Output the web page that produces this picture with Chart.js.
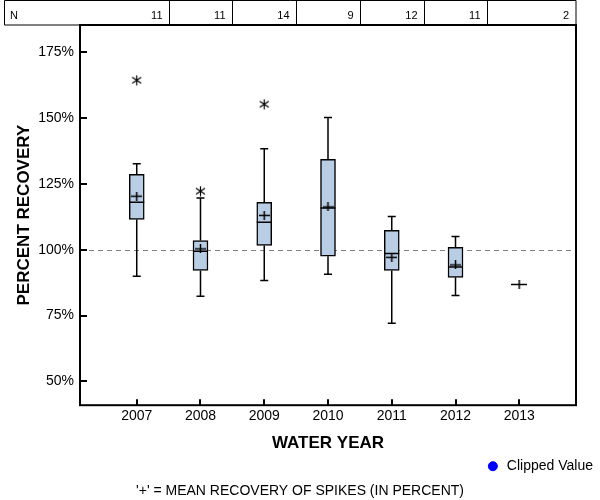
<!DOCTYPE html>
<html>
<head>
<meta charset="utf-8">
<script src="https://cdn.jsdelivr.net/npm/chart.js@4.4.0/dist/chart.umd.min.js"></script>
<style>
    html, body { margin: 0; padding: 0; background: #fff; }
</style>
</head>
<body>
<canvas id="recoveryChart" width="600" height="500"></canvas>
<script>
const years = [2007, 2008, 2009, 2010, 2011, 2012, 2013];
const nCounts = [11, 11, 14, 9, 12, 11, 2];
const whiskerLow = [89.9, 82.3, 88.3, 90.7, 72.1, 82.6, null];
const q1 = [111.5, 92.1, 101.6, 97.5, 92.1, 89.5, null];
const medians = [118.0, 99.4, 110.4, 115.8, 98.6, 93.4, null];
const q3 = [128.6, 103.5, 118.0, 134.3, 107.3, 100.9, null];
const whiskerHigh = [132.6, 119.6, 138.3, 150.2, 112.6, 105.0, null];
const means = [120.3, 100.3, 113.0, 116.2, 97.1, 94.2, 86.8];
const outlierYears = [2007, 2008, 2009];
const outlierValues = [164.3, 122.2, 155.2];
const clippedValues = [];
const yTickValues = [50, 75, 100, 125, 150, 175];
const referenceValue = 100;

const BOX_WIDTH = 15;
const CAP_HALF = 4;
const FONT = "'Liberation Sans', Arial, sans-serif";

Chart.defaults.font.family = FONT;
Chart.defaults.color = '#000';

// small canvases used as point styles
function makeMark(w, h, lineWidth, draw) {
    const c = document.createElement('canvas');
    c.width = w;
    c.height = h;
    const g = c.getContext('2d');
    g.strokeStyle = '#000';
    g.lineWidth = lineWidth;
    g.beginPath();
    draw(g, w, h);
    g.stroke();
    return c;
}

const meanCross = makeMark(11, 9, 1.5, (g, w, h) => {
    g.moveTo(0, h / 2); g.lineTo(w, h / 2);
    g.moveTo(w / 2, 0); g.lineTo(w / 2, h);
});
const wideCross = makeMark(16, 9, 1.5, (g, w, h) => {
    g.moveTo(0, h / 2); g.lineTo(w, h / 2);
    g.moveTo(w / 2, 0); g.lineTo(w / 2, h);
});
const asterisk = makeMark(11, 11, 1.2, (g, w, h) => {
    g.moveTo(w / 2, 0.5); g.lineTo(w / 2, h - 0.5);
    g.moveTo(1, 2.5); g.lineTo(w - 1, h - 2.5);
    g.moveTo(w - 1, 2.5); g.lineTo(1, h - 2.5);
});

const boxPlugin = {
    id: 'boxPlugin',
    beforeDatasetsDraw(chart) {
        const { ctx, chartArea, scales: { x, y } } = chart;
        ctx.save();
        // reference line at 100%
        const yRef = Math.round(y.getPixelForValue(referenceValue)) + 0.5;
        ctx.strokeStyle = '#808080';
        ctx.lineWidth = 1;
        ctx.setLineDash([5, 4]);
        ctx.beginPath();
        ctx.moveTo(chartArea.left, yRef);
        ctx.lineTo(chartArea.right, yRef);
        ctx.stroke();
        ctx.setLineDash([]);

        // whiskers
        ctx.strokeStyle = '#000';
        ctx.lineWidth = 1.5;
        years.forEach((yr, i) => {
            if (whiskerLow[i] == null) return;
            const px = x.getPixelForValue(yr);
            ctx.beginPath();
            [[whiskerLow[i], q1[i]], [whiskerHigh[i], q3[i]]].forEach(([w, q]) => {
                const pw = y.getPixelForValue(w);
                ctx.moveTo(px, pw);
                ctx.lineTo(px, y.getPixelForValue(q));
                ctx.moveTo(px - CAP_HALF, pw);
                ctx.lineTo(px + CAP_HALF, pw);
            });
            ctx.stroke();
        });
        ctx.restore();
    },
    afterDatasetsDraw(chart) {
        const { ctx, scales: { x, y } } = chart;
        ctx.save();
        ctx.strokeStyle = '#000';
        ctx.lineWidth = 1.5;
        ctx.beginPath();
        years.forEach((yr, i) => {
            if (medians[i] == null) return;
            const px = x.getPixelForValue(yr);
            const py = y.getPixelForValue(medians[i]);
            ctx.moveTo(px - BOX_WIDTH / 2, py);
            ctx.lineTo(px + BOX_WIDTH / 2, py);
        });
        ctx.stroke();
        ctx.restore();
    },
    afterDraw(chart) {
        const { ctx, chartArea: a, scales: { x, y } } = chart;
        ctx.save();

        // plot frame
        ctx.strokeStyle = '#000';
        ctx.lineWidth = 2;
        ctx.strokeRect(a.left, a.top, a.right - a.left, a.bottom - a.top);

        // inner tick marks
        ctx.beginPath();
        y.ticks.forEach(t => {
            const py = Math.round(y.getPixelForValue(t.value));
            ctx.moveTo(a.left, py);
            ctx.lineTo(a.left + 7, py);
        });
        x.ticks.forEach(t => {
            const px = Math.round(x.getPixelForValue(t.value));
            ctx.moveTo(px, a.bottom);
            ctx.lineTo(px, a.bottom - 6);
        });
        ctx.stroke();

        // N table above the plot
        const top = 0.5, bottom = a.top;
        const left = 4.5;
        ctx.lineWidth = 1;
        ctx.beginPath();
        ctx.moveTo(left, bottom);
        ctx.lineTo(left, top);
        ctx.lineTo(a.right, top);
        ctx.lineTo(a.right, bottom);
        ctx.lineTo(left, bottom);
        const edges = [left];
        years.forEach((yr, i) => {
            const edge = i < years.length - 1 ? Math.round(x.getPixelForValue(yr + 0.5)) + 0.5 : a.right;
            edges.push(edge);
            if (i < years.length - 1) {
                ctx.moveTo(edge, top);
                ctx.lineTo(edge, bottom);
            }
        });
        ctx.stroke();

        ctx.font = '11px ' + FONT;
        ctx.fillStyle = '#000';
        ctx.textBaseline = 'alphabetic';
        ctx.textAlign = 'left';
        ctx.fillText('N', 10, 19);
        ctx.textAlign = 'right';
        nCounts.forEach((n, i) => {
            ctx.fillText(String(n), edges[i + 1] - 7, 19);
        });
        ctx.restore();
    }
};

const boxData = years
    .map((yr, i) => ({ x: yr, y: [q1[i], q3[i]] }))
    .filter(d => d.y[0] != null);

new Chart(document.getElementById('recoveryChart'), {
    type: 'bar',
    data: {
        datasets: [
            {
                type: 'scatter',
                label: 'Mean',
                data: years.map((yr, i) => ({ x: yr, y: means[i] })),
                pointStyle: ctx => (whiskerLow[ctx.dataIndex] == null ? wideCross : meanCross),
                order: 0
            },
            {
                type: 'scatter',
                label: 'Outlier',
                data: outlierYears.map((yr, i) => ({ x: yr, y: outlierValues[i] })),
                pointStyle: asterisk,
                order: 0
            },
            {
                type: 'scatter',
                label: 'Clipped Value',
                data: clippedValues,
                pointStyle: 'circle',
                backgroundColor: '#0000ff',
                borderColor: '#0000ff',
                order: 0
            },
            {
                type: 'bar',
                label: 'Box',
                data: boxData,
                backgroundColor: '#b9cde5',
                borderColor: '#000',
                borderWidth: 1.5,
                borderSkipped: false,
                barThickness: BOX_WIDTH,
                order: 2
            }
        ]
    },
    options: {
        responsive: false,
        animation: false,
        layout: { padding: { top: 25, left: 0, right: 0, bottom: 0 } },
        scales: {
            x: {
                type: 'linear',
                min: 2006.11,
                max: 2013.89,
                offset: false,
                grid: { display: false, drawTicks: false },
                border: { display: false },
                afterBuildTicks: scale => { scale.ticks = years.map(v => ({ value: v })); },
                afterFit: scale => { scale.height = 47; },
                ticks: {
                    padding: 3,
                    font: { size: 14 },
                    callback: v => String(v)
                },
                title: {
                    display: true,
                    text: 'WATER YEAR',
                    font: { size: 17, weight: 'bold', lineHeight: 1 },
                    padding: { top: 0, bottom: 0 }
                }
            },
            y: {
                min: 41,
                max: 185.25,
                grid: { display: false, drawTicks: false },
                border: { display: false },
                afterBuildTicks: scale => { scale.ticks = yTickValues.map(v => ({ value: v })); },
                afterFit: scale => { scale.width = 80; },
                ticks: {
                    padding: 6,
                    font: { size: 14 },
                    callback: v => v + '%'
                },
                title: {
                    display: true,
                    text: 'PERCENT RECOVERY',
                    font: { size: 17, weight: 'bold' },
                    padding: { top: 14, bottom: 0 }
                }
            },
            y2: {
                position: 'right',
                display: true,
                grid: { display: false, drawTicks: false },
                border: { display: false },
                ticks: { display: false },
                afterFit: scale => { scale.width = 24; }
            }
        },
        plugins: {
            tooltip: { enabled: false },
            legend: {
                position: 'bottom',
                align: 'end',
                labels: {
                    usePointStyle: true,
                    boxWidth: 14,
                    boxHeight: 6.4,
                    padding: 7,
                    font: { size: 14 },
                    color: '#000',
                    filter: item => item.text === 'Clipped Value'
                }
            },
            title: {
                display: true,
                position: 'bottom',
                text: "'+' = MEAN RECOVERY OF SPIKES (IN PERCENT)",
                font: { size: 14, weight: 'normal' },
                color: '#000',
                padding: { top: 0, bottom: 0 }
            }
        }
    },
    plugins: [boxPlugin]
});
</script>
</body>
</html>
